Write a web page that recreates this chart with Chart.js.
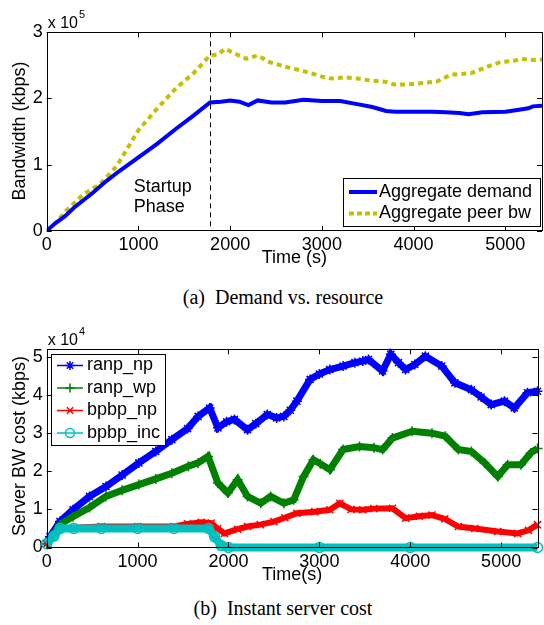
<!DOCTYPE html>
<html><head><meta charset="utf-8">
<script src="https://cdn.jsdelivr.net/npm/chart.js@4.4.1/dist/chart.umd.min.js"></script>
<style>
html,body{margin:0;padding:0;background:#fff}
body{width:544px;height:625px;position:relative;overflow:hidden}
canvas{position:absolute;left:0}
#c1{top:0}
#c2{top:318px}
.cap{position:absolute;left:0;width:566px;text-align:center;font-family:"Liberation Serif","Times New Roman",serif;font-size:20px;color:#000;white-space:pre}
</style></head><body>
<canvas id="c1" width="544" height="272"></canvas>
<canvas id="c2" width="544" height="272"></canvas>
<div class="cap" style="top:286px">(a)  Demand vs. resource</div>
<div class="cap" style="top:597px">(b)  Instant server cost</div>
<script>
// ---------- data (a) ----------
const demandTime = [0,100,200,300,400,500,650,800,1000,1200,1400,1600,1780,1900,2000,2100,2200,2300,2450,2600,2800,3000,3200,3400,3550,3700,3800,4000,4200,4350,4500,4600,4750,5000,5150,5250,5300,5400];
const demandKbps = [0,0.12,0.22,0.35,0.46,0.57,0.75,0.91,1.11,1.31,1.53,1.74,1.94,1.95,1.97,1.95,1.90,1.97,1.94,1.94,1.98,1.96,1.96,1.91,1.87,1.81,1.80,1.80,1.80,1.79,1.78,1.76,1.79,1.80,1.83,1.85,1.88,1.89];
const peerTime = [0,100,217,400,579,760,1000,1200,1413,1600,1780,1860,1946,2050,2174,2300,2430,2600,2811,3000,3101,3250,3391,3536,3700,3789,3900,4006,4150,4261,4405,4623,4805,4950,5100,5167,5300,5400];
const peerKbps = [0,0.12,0.31,0.55,0.70,0.97,1.52,1.84,2.16,2.38,2.65,2.66,2.75,2.68,2.60,2.65,2.55,2.48,2.41,2.33,2.30,2.32,2.30,2.27,2.25,2.21,2.21,2.22,2.24,2.26,2.36,2.38,2.48,2.55,2.57,2.60,2.58,2.59];
const startupEnd = 1780;
const xTicks = [0,1000,2000,3000,4000,5000];
const yTicksA = [0,1,2,3];
const yScaleA = 1e5;

// ---------- data (b) ----------
const ranpNpTime = [0,36,145,289,471,652,830,1014,1200,1377,1550,1666,1793,1884,1980,2065,2210,2300,2427,2530,2609,2680,2753,2898,3000,3115,3261,3391,3478,3540,3695,3786,3870,3949,4050,4166,4347,4492,4673,4780,4891,5036,5145,5290,5400];
const ranpNp = [0.1,0.28,0.68,0.99,1.34,1.6,1.9,2.22,2.52,2.83,3.12,3.44,3.66,3.14,3.3,3.36,3.09,3.25,3.49,3.4,3.44,3.6,3.84,4.41,4.55,4.67,4.76,4.85,4.89,4.93,4.63,5.07,4.85,4.67,4.8,5.02,4.76,4.32,4.14,3.95,3.75,3.84,3.66,4.06,4.1];
const ranpWpTime = [0,145,289,471,652,830,1014,1200,1377,1558,1666,1775,1884,1993,2101,2210,2355,2464,2609,2717,2826,2935,3010,3115,3261,3442,3600,3695,3804,4021,4239,4384,4529,4673,4818,4963,5072,5217,5326,5400];
const ranpWp = [0.1,0.6,0.81,1.05,1.34,1.5,1.65,1.8,1.95,2.13,2.22,2.39,1.69,1.43,1.78,1.34,1.16,1.34,1.16,1.25,1.86,2.3,2.2,2.04,2.57,2.65,2.62,2.57,2.87,3.05,3.0,2.92,2.57,2.52,2.22,1.86,2.17,2.17,2.48,2.6];
const bpbpNpTime = [0,80,150,300,600,1000,1400,1550,1700,1811,1880,1956,2100,2210,2350,2500,2620,2753,2950,3115,3225,3350,3478,3600,3804,3949,4100,4239,4380,4529,4710,4963,5181,5300,5400];
const bpbpNp = [0.1,0.3,0.5,0.52,0.55,0.55,0.55,0.62,0.66,0.64,0.5,0.37,0.48,0.55,0.6,0.68,0.78,0.9,0.94,0.99,1.16,1.0,0.99,1.02,1.03,0.77,0.82,0.85,0.75,0.55,0.5,0.42,0.37,0.45,0.6];
const bpbpIncTime = [0,80,150,300,600,1000,1400,1780,1848,1920,2000,3000,4000,5400];
const bpbpInc = [0.1,0.3,0.5,0.5,0.5,0.5,0.5,0.5,0.28,0.05,0,0,0,0];
const yTicksB = [0,1,2,3,4,5];
const yScaleB = 1e4;

const FONT = '"Liberation Sans", Arial, Helvetica, sans-serif';
const pts = (t, v, s) => t.map((x, i) => ({x, y: v[i] * s}));

// frame, inward ticks, custom texts
const framePlugin = {
  id: 'frame',
  afterDraw(chart, args, opts) {
    const ctx = chart.ctx, a = chart.chartArea;
    const xs = chart.scales.x, ys = chart.scales.y;
    ctx.save();
    ctx.strokeStyle = '#000'; ctx.lineWidth = 1;
    ctx.beginPath();
    xs.ticks.forEach(t => {
      const p = Math.round(xs.getPixelForValue(t.value)) + 0.5;
      ctx.moveTo(p, a.bottom); ctx.lineTo(p, a.bottom - 5);
      ctx.moveTo(p, a.top); ctx.lineTo(p, a.top + 5);
    });
    ys.ticks.forEach(t => {
      const p = Math.round(ys.getPixelForValue(t.value)) + 0.5;
      ctx.moveTo(a.left, p); ctx.lineTo(a.left + 5, p);
      ctx.moveTo(a.right, p); ctx.lineTo(a.right - 5, p);
    });
    ctx.stroke();
    ctx.strokeRect(Math.round(a.left) + 0.5, Math.round(a.top) + 0.5, Math.round(a.right - a.left), Math.round(a.bottom - a.top));
    // exponent label
    ctx.fillStyle = '#000';
    ctx.textBaseline = 'alphabetic'; ctx.textAlign = 'left';
    ctx.font = '16px ' + FONT;
    ctx.fillText('x 10', a.left + 1, a.top - 4);
    const w = ctx.measureText('x 10').width;
    ctx.font = '11px ' + FONT;
    ctx.fillText(opts.exp, a.left + 2 + w, a.top - 14);
    // axis titles
    ctx.font = '18px ' + FONT;
    ctx.textAlign = 'center'; ctx.textBaseline = 'middle';
    ctx.fillText(opts.xTitle, (a.left + a.right) / 2, opts.xTitleY);
    ctx.save();
    ctx.translate(20, opts.yTitleY); ctx.rotate(-Math.PI / 2);
    ctx.fillText(opts.yTitle, 0, 0);
    ctx.restore();
    if (opts.extra) opts.extra(chart, ctx);
    ctx.restore();
  }
};

function axes(xMax, yMax, yTicks, yDiv, xH) {
  return {
    x: { type: 'linear', min: 0, max: xMax,
      afterBuildTicks(s) { s.ticks = xTicks.map(v => ({ value: v })); },
      ticks: { autoSkip: false, maxRotation: 0, minRotation: 0, color: '#000', font: { family: FONT, size: 18 }, padding: 4,
        callback: v => String(v) },
      grid: { display: false, drawTicks: false }, border: { display: false },
      afterFit(s) { s.height = xH; s.paddingLeft = 0; s.paddingRight = 0; } },
    y: { type: 'linear', min: 0, max: yMax,
      afterBuildTicks(s) { s.ticks = yTicks.map(v => ({ value: v * yDiv })); },
      ticks: { autoSkip: false, color: '#000', font: { family: FONT, size: 18 }, padding: 4,
        callback: v => String(Math.round(v / yDiv)) },
      grid: { display: false, drawTicks: false }, border: { display: false },
      afterFit(s) { s.width = 46.7; s.paddingTop = 0; s.paddingBottom = 0; } }
  };
}

// ---------- chart (a) ----------
new Chart(document.getElementById('c1'), {
  type: 'line',
  data: { datasets: [
    { label: 'Aggregate demand', data: pts(demandTime, demandKbps, yScaleA), borderColor: '#0000ff', borderWidth: 4, pointRadius: 0, tension: 0 },
    { label: 'Aggregate peer bw', data: pts(peerTime, peerKbps, yScaleA), borderColor: '#c2c000', borderWidth: 4, borderDash: [5, 4], pointRadius: 0, tension: 0 }
  ]},
  options: {
    responsive: false, animation: false, devicePixelRatio: 1,
    layout: { padding: { left: 0, right: 2, top: 32.3, bottom: 0 } },
    scales: axes(5400, 3e5, yTicksA, yScaleA, 272 - 230.7),
    plugins: {
      legend: { display: false }, tooltip: { enabled: false },
      frame: {
        exp: '5', xTitle: 'Time (s)', xTitleY: 258, yTitle: 'Bandwidth (kbps)', yTitleY: 131,
        extra(chart, ctx) {
          const xs = chart.scales.x, ys = chart.scales.y, a = chart.chartArea;
          const px = Math.round(xs.getPixelForValue(startupEnd)) + 0.5;
          ctx.save(); ctx.strokeStyle = '#000'; ctx.lineWidth = 1; ctx.setLineDash([5, 4]);
          ctx.beginPath(); ctx.moveTo(px, a.top); ctx.lineTo(px, a.bottom); ctx.stroke(); ctx.restore();
          ctx.font = '18px ' + FONT; ctx.textAlign = 'left'; ctx.textBaseline = 'alphabetic'; ctx.fillStyle = '#000';
          const tx = xs.getPixelForValue(950);
          ctx.fillText('Startup', tx, ys.getPixelForValue(0.585e5));
          ctx.fillText('Phase', tx, ys.getPixelForValue(0.28e5));
          // legend
          ctx.fillStyle = '#fff'; ctx.fillRect(344, 178.5, 196, 48);
          ctx.strokeStyle = '#000'; ctx.lineWidth = 1;
          ctx.strokeRect(343.5, 178.5, 197, 48);
          ctx.lineWidth = 4;
          ctx.strokeStyle = '#0000ff'; ctx.beginPath(); ctx.moveTo(349, 192); ctx.lineTo(377, 192); ctx.stroke();
          ctx.strokeStyle = '#c2c000'; ctx.setLineDash([5, 3]); ctx.beginPath(); ctx.moveTo(349, 213.5); ctx.lineTo(377, 213.5); ctx.stroke(); ctx.setLineDash([]);
          ctx.fillStyle = '#000'; ctx.textBaseline = 'middle';
          ctx.fillText('Aggregate demand', 379, 192);
          ctx.fillText('Aggregate peer bw', 379, 213.5);
        }
      }
    }
  },
  plugins: [framePlugin]
});

// ---------- chart (b) ----------
const seriesB = [
  { label: 'ranp_np', t: ranpNpTime, v: ranpNp, color: '#0000ff', style: 'star', w: 7 },
  { label: 'ranp_wp', t: ranpWpTime, v: ranpWp, color: '#008000', style: 'cross', w: 7 },
  { label: 'bpbp_np', t: bpbpNpTime, v: bpbpNp, color: '#ff0000', style: 'crossRot', w: 6 },
  { label: 'bpbp_inc', t: bpbpIncTime, v: bpbpInc, color: '#00bfbf', style: 'circle', w: 8 }
];
new Chart(document.getElementById('c2'), {
  type: 'line',
  data: { datasets: seriesB.map(s => ({
    label: s.label, data: pts(s.t, s.v, yScaleB), borderColor: s.color, backgroundColor: 'rgba(0,0,0,0)',
    borderWidth: s.w, pointStyle: s.style, pointRadius: 5, pointBorderWidth: 1.5,
    pointBorderColor: s.color, pointBackgroundColor: 'rgba(0,0,0,0)', tension: 0, clip: 6
  })).reverse() },
  options: {
    responsive: false, animation: false, devicePixelRatio: 1,
    layout: { padding: { left: 0, right: 2, top: 31.3, bottom: 0 } },
    scales: axes(5400, 5.2e4, yTicksB, yScaleB, 272 - 229.5),
    plugins: {
      legend: { display: false }, tooltip: { enabled: false },
      frame: {
        exp: '4', xTitle: 'Time(s)', xTitleY: 257, yTitle: 'Server BW cost (kbps)', yTitleY: 128,
        extra(chart, ctx) {
          ctx.fillStyle = '#fff'; ctx.fillRect(52, 36.5, 113, 91);
          ctx.strokeStyle = '#000'; ctx.lineWidth = 1; ctx.strokeRect(51.5, 36.5, 114, 91);
          const ys = [47.5, 70, 92.5, 115];
          ctx.font = '18px ' + FONT; ctx.textAlign = 'left'; ctx.textBaseline = 'middle';
          seriesB.forEach((s, i) => {
            const y = ys[i];
            ctx.strokeStyle = s.color; ctx.lineWidth = 1.5;
            ctx.beginPath(); ctx.moveTo(57, y); ctx.lineTo(83, y); ctx.stroke();
            ctx.fillStyle = 'rgba(0,0,0,0)';
            Chart.helpers.drawPoint(ctx, { pointStyle: s.style, radius: 4.5, borderWidth: 1.5 }, 70, y);
            ctx.fillStyle = '#000';
            ctx.fillText(s.label, 87, y);
          });
        }
      }
    }
  },
  plugins: [framePlugin]
});
</script>
</body></html>
